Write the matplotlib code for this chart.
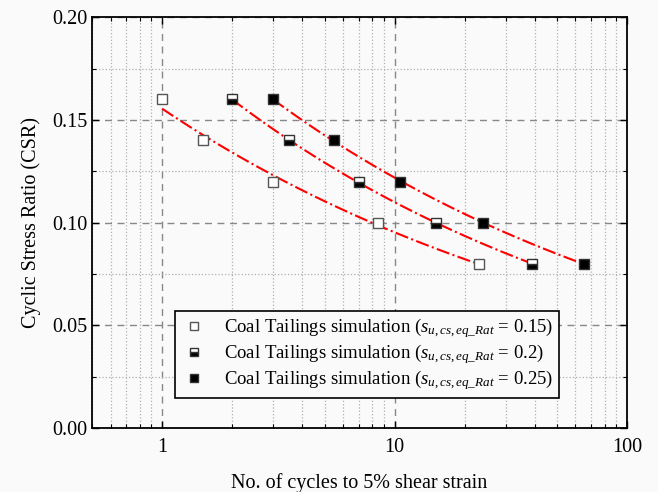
import numpy as np
import matplotlib
matplotlib.use('Agg')
import matplotlib.pyplot as plt
from matplotlib.ticker import MultipleLocator, LogLocator, FixedLocator, NullFormatter

plt.rcParams['font.family'] = 'Liberation Serif'
plt.rcParams['mathtext.fontset'] = 'custom'
plt.rcParams['mathtext.rm'] = 'Liberation Serif'
plt.rcParams['mathtext.it'] = 'Liberation Serif:italic'

# data
n_015 = [1, 1.5, 3, 8.5, 23]
csr_015 = [0.16, 0.14, 0.12, 0.10, 0.08]
n_020 = [2, 3.5, 7, 15, 39]
csr_020 = [0.16, 0.14, 0.12, 0.10, 0.08]
n_025 = [3, 5.5, 10.5, 24, 65]
csr_025 = [0.16, 0.14, 0.12, 0.10, 0.08]
labels = [r'Coal Tailings simulation ($s_{u,cs,eq\_Rat}$ = 0.15)',
          r'Coal Tailings simulation ($s_{u,cs,eq\_Rat}$ = 0.2)',
          r'Coal Tailings simulation ($s_{u,cs,eq\_Rat}$ = 0.25)']

bg = '#fafafa'
fig = plt.figure(figsize=(6.58, 4.92), dpi=100, facecolor=bg)
ax = fig.add_axes([0.140, 0.130, 0.813, 0.835], facecolor=bg)

def power_fit(n, csr):
    # fit CSR = a * N^b in log-log space
    b, loga = np.polyfit(np.log10(n), np.log10(csr), 1)
    xs = np.logspace(np.log10(n[0]), np.log10(n[-1]), 100)
    return xs, 10 ** loga * xs ** b

for n, csr in [(n_015, csr_015), (n_020, csr_020), (n_025, csr_025)]:
    xs, ys = power_fit(n, csr)
    ax.plot(xs, ys, color='red', ls='-.', lw=1.5, zorder=2)

ax.plot(n_015, csr_015, 's', ms=7, mfc='white', mec='#555555', mew=1.0,
        ls='none', label=labels[0], zorder=3)
ax.plot(n_020, csr_020, 's', ms=7, fillstyle='bottom', mfc='black',
        mfcalt='white', mec='#333333', mew=1.0, ls='none', label=labels[1], zorder=3)
ax.plot(n_025, csr_025, 's', ms=7, mfc='black', mec='#333333', mew=1.0,
        ls='none', label=labels[2], zorder=3)

ax.set_xscale('log')
ax.set_xlim(0.5, 100)
ax.set_ylim(0, 0.2)
ax.yaxis.set_major_locator(MultipleLocator(0.05))
ax.yaxis.set_minor_locator(MultipleLocator(0.025))
ax.yaxis.set_major_formatter(plt.FormatStrFormatter('%.2f'))
ax.xaxis.set_major_locator(FixedLocator([1, 10, 100]))
ax.xaxis.set_major_formatter(plt.FuncFormatter(lambda v, p: '%g' % v))
ax.xaxis.set_minor_locator(LogLocator(base=10, subs=np.arange(2, 10)))
ax.xaxis.set_minor_formatter(NullFormatter())

ax.grid(which='major', color='#888888', ls=(0, (5, 4)), lw=1.0)
ax.grid(which='minor', color='#b0b0b0', ls=':', lw=0.9)
ax.set_axisbelow(True)

ax.tick_params(which='both', direction='in', top=True, right=True, labelsize=14.5)
ax.tick_params(which='major', length=5, width=1)
ax.tick_params(which='minor', length=3, width=0.8)
ax.tick_params(axis='x', which='major', pad=7)
for s in ax.spines.values():
    s.set_linewidth(1.3)

ax.set_xlabel('No. of cycles to 5% shear strain', fontsize=14.5, labelpad=12)
ax.set_ylabel('Cyclic Stress Ratio (CSR)', fontsize=14.5, labelpad=8)

leg = ax.legend(loc='lower center', bbox_to_anchor=(0.514, 0.073), fontsize=13.5,
                frameon=True, fancybox=False, edgecolor='black', framealpha=1,
                facecolor=bg, handlelength=1.4, handletextpad=0.9, borderpad=0.3,
                labelspacing=0.12, borderaxespad=0, markerscale=0.8)
leg.get_frame().set_linewidth(1.2)

fig.savefig('out.png', dpi=100, facecolor=bg)
